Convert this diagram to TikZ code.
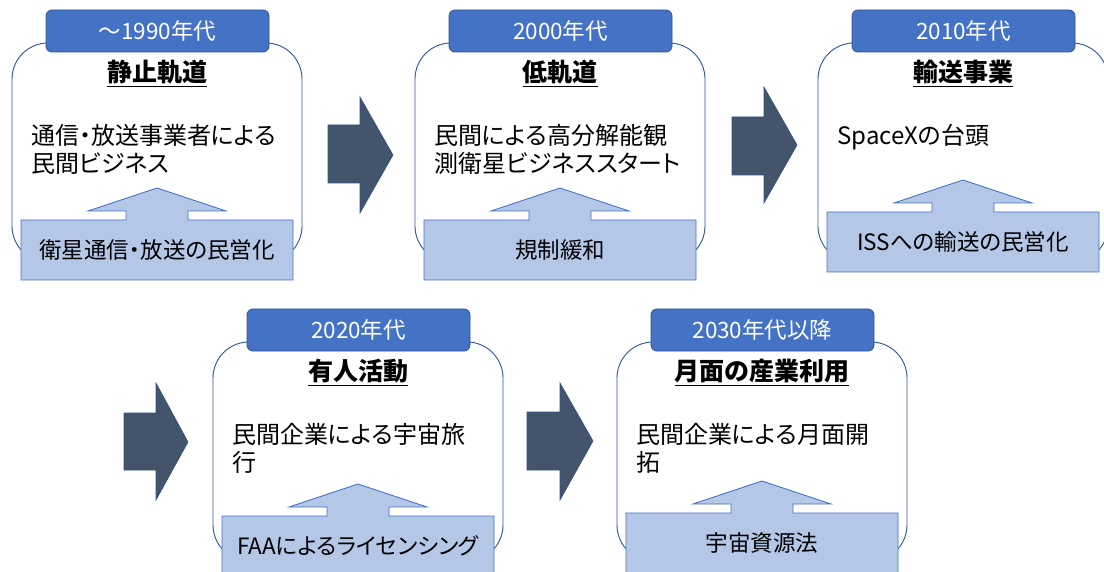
\documentclass[tikz,border=0pt]{standalone}
\usepackage{fontspec}
\setmainfont{Noto Sans CJK JP}[RawFeature={+palt}]
\usepackage{xcolor}
\usepackage{tikz}
\usetikzlibrary{positioning}

\definecolor{hdrblue}{HTML}{4472C4}
\definecolor{hdredge}{HTML}{2F528F}
\definecolor{lineblue}{HTML}{2F5597}
\definecolor{driverfill}{HTML}{B4C7E7}
\definecolor{flowgray}{HTML}{44546A}

\tikzset{
  era/.style={fill=hdrblue, draw=hdredge, line width=0.8pt, rounded corners=6pt,
    minimum width=223pt, minimum height=42pt, text=white, font=\fontsize{22.5}{26}\selectfont},
  panel/.style={draw=lineblue, line width=0.9pt, fill=white, rounded corners=36pt,
    minimum width=290pt, minimum height=219pt},
  topic/.style={anchor=base, inner sep=0pt, font=\fontsize{25}{30}\selectfont\bfseries},
  bodytext/.style={anchor=north west, inner sep=0pt, align=left, font=\fontsize{24}{28}\selectfont},
  driver/.style={fill=driverfill, draw=hdrblue, line width=0.8pt},
  drivertext/.style={font=\fontsize{22.5}{26}\selectfont},
  flow/.style={fill=flowgray, draw=hdredge, line width=0.6pt}
}

\begin{document}
\begin{tikzpicture}[x=1pt, y=-1pt]
    \useasboundingbox (0, 0) rectangle (1104, 572);
    \clip (0, 0) rectangle (1104, 572);

    % Panel 1
    \node [panel] (box1) at (157, 152.5) {};
    \node [era] (era1) at (157.5, 31) {～1990年代};
    \node [topic] (topic1) at (157, 82) {\underline{静止軌道}};
    \node [bodytext] (body1) at (31, 124) {通信・放送事業者による\\民間ビジネス};
    \draw [driver] (21, 280) -- (21, 220) -- (126, 220) -- (126, 211) -- (88, 211) -- (157, 188)
        -- (226, 211) -- (188, 211) -- (188, 220) -- (293, 220) -- (293, 280) -- cycle;
    \node [drivertext] (driver1) at (157, 250) {衛星通信・放送の民営化};

    % Panel 2
    \node [panel] (box2) at (560, 152.5) {};
    \node [era] (era2) at (560.5, 31) {2000年代};
    \node [topic] (topic2) at (560, 82) {\underline{低軌道}};
    \node [bodytext] (body2) at (434, 124) {民間による高分解能観\\測衛星ビジネススタート};
    \draw [driver] (424, 280) -- (424, 220) -- (529, 220) -- (529, 211) -- (491, 211) -- (560, 188)
        -- (629, 211) -- (591, 211) -- (591, 220) -- (696, 220) -- (696, 280) -- cycle;
    \node [drivertext] (driver2) at (560, 250) {規制緩和};

    % Panel 3
    \node [panel] (box3) at (963, 152.5) {};
    \node [era] (era3) at (963.5, 31) {2010年代};
    \node [topic] (topic3) at (963, 82) {\underline{輸送事業}};
    \node [bodytext] (body3) at (837, 124) {SpaceXの台頭};
    \draw [driver] (827, 272) -- (827, 212) -- (932, 212) -- (932, 203) -- (894, 203) -- (963, 180)
        -- (1032, 203) -- (994, 203) -- (994, 212) -- (1099, 212) -- (1099, 272) -- cycle;
    \node [drivertext] (driver3) at (963, 242) {ISSへの輸送の民営化};

    % Panel 4
    \node [panel] (box4) at (358, 451.5) {};
    \node [era] (era4) at (358.5, 330) {2020年代};
    \node [topic] (topic4) at (358, 381) {\underline{有人活動}};
    \node [bodytext] (body4) at (232, 423) {民間企業による宇宙旅\\行};
    \draw [driver] (222, 576) -- (222, 516) -- (327, 516) -- (327, 507) -- (289, 507) -- (358, 484)
        -- (427, 507) -- (389, 507) -- (389, 516) -- (494, 516) -- (494, 576) -- cycle;
    \node [drivertext] (driver4) at (358, 546) {FAAによるライセンシング};

    % Panel 5
    \node [panel] (box5) at (762, 451.5) {};
    \node [era] (era5) at (762.5, 330) {2030年代以降};
    \node [topic] (topic5) at (762, 381) {\underline{月面の産業利用}};
    \node [bodytext] (body5) at (636, 423) {民間企業による月面開\\拓};
    \draw [driver] (626, 573) -- (626, 513) -- (731, 513) -- (731, 504) -- (693, 504) -- (762, 481)
        -- (831, 504) -- (793, 504) -- (793, 513) -- (898, 513) -- (898, 573) -- cycle;
    \node [drivertext] (driver5) at (762, 543) {宇宙資源法};

    % Flow arrows
    \draw [flow] (328, 125) -- (360, 125) -- (360, 97) -- (393, 155) -- (360, 213) -- (360, 183) -- (328, 183) -- cycle;
    \draw [flow] (732, 117) -- (764, 117) -- (764, 87) -- (797, 145) -- (764, 203) -- (764, 175) -- (732, 175) -- cycle;
    \draw [flow] (124, 413) -- (156, 413) -- (156, 383) -- (188, 442) -- (156, 500) -- (156, 470) -- (124, 470) -- cycle;
    \draw [flow] (527, 412) -- (560, 412) -- (560, 383) -- (593, 441) -- (560, 500) -- (560, 470) -- (527, 470) -- cycle;
\end{tikzpicture}
\end{document}
